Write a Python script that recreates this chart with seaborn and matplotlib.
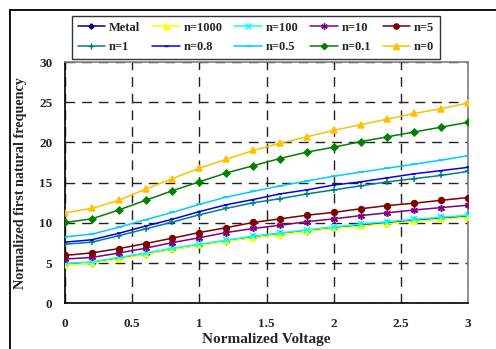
import numpy as np
import pandas as pd
import matplotlib
matplotlib.use("Agg")
import matplotlib.pyplot as plt
import seaborn as sns
from matplotlib.lines import Line2D
from matplotlib.ticker import MultipleLocator

voltage = [0, 0.2, 0.4, 0.6, 0.8, 1.0, 1.2, 1.4, 1.6, 1.8, 2.0, 2.2, 2.4, 2.6, 2.8, 3.0]

metal  = [4.85, 5.05, 5.6, 6.15, 6.75, 7.25, 7.75, 8.2, 8.6, 9.0, 9.35, 9.7, 10.0, 10.3, 10.55, 10.8]
n1000  = [4.75, 5.0, 5.5, 6.1, 6.7, 7.2, 7.7, 8.15, 8.55, 8.95, 9.3, 9.6, 9.9, 10.2, 10.45, 10.7]
n100   = [4.95, 5.15, 5.7, 6.25, 6.85, 7.35, 7.85, 8.35, 8.75, 9.15, 9.5, 9.85, 10.15, 10.45, 10.7, 10.95]
n10    = [5.5, 5.7, 6.25, 6.85, 7.55, 8.15, 8.8, 9.3, 9.7, 10.15, 10.5, 10.9, 11.25, 11.6, 11.9, 12.2]
n5     = [5.95, 6.27, 6.8, 7.43, 8.1, 8.8, 9.4, 10.05, 10.5, 10.95, 11.3, 11.75, 12.15, 12.45, 12.8, 13.15]
n1     = [7.35, 7.6, 8.4, 9.25, 10.1, 11.0, 11.8, 12.5, 13.0, 13.6, 14.1, 14.6, 15.1, 15.5, 15.9, 16.4]
n08    = [7.6, 7.9, 8.7, 9.6, 10.45, 11.4, 12.25, 12.9, 13.6, 14.1, 14.7, 15.1, 15.6, 16.1, 16.5, 16.9]
n05    = [8.26, 8.6, 9.45, 10.4, 11.3, 12.3, 13.2, 13.9, 14.6, 15.2, 15.8, 16.3, 16.8, 17.3, 17.8, 18.35]
n01    = [10.05, 10.5, 11.6, 12.8, 14.0, 15.1, 16.2, 17.1, 18.0, 18.8, 19.4, 20.1, 20.7, 21.3, 21.9, 22.5]
n0     = [11.25, 11.8, 12.8, 14.2, 15.5, 16.8, 17.9, 19.0, 19.9, 20.7, 21.5, 22.2, 22.9, 23.6, 24.2, 24.9]

labels = ["Metal", "n=1000", "n=100", "n=10", "n=5", "n=1", "n=0.8", "n=0.5", "n=0.1", "n=0"]
series = [metal, n1000, n100, n10, n5, n1, n08, n05, n01, n0]
colors = ["#000080", "#FFFF00", "#00FFFF", "#800080", "#800000",
          "#008080", "#0000FF", "#00CCFF", "#008000", "#FFC000"]
markers = ["D", "^", "x", (6, 2, 0), "o", "+", "_", "_", "D", "^"]
msizes = [3.0, 4.5, 4.5, 5, 4.2, 5, 3.5, 4, 3.5, 5]

sns.set_style("white")
plt.rcParams["font.family"] = ["Liberation Serif", "DejaVu Serif"]
plt.rcParams["font.weight"] = "bold"

fig = plt.figure(figsize=(4.96, 3.49), dpi=100)
ax = fig.add_axes([65/496, 1-303.3/349, (468-65)/496, (303.3-62)/349])

rows = []
for lab, vals in zip(labels, series):
    for xv, yv in zip(voltage, vals):
        rows.append({"x": xv, "y": yv, "s": lab})
df = pd.DataFrame(rows)

handles = {}
for lab, c, m, ms in zip(labels, colors, markers, msizes):
    sub = df[df["s"] == lab]
    sns.lineplot(data=sub, x="x", y="y", ax=ax, color=c, marker=m,
                 markersize=ms, markeredgecolor=c, markerfacecolor=c,
                 markeredgewidth=1.1, linewidth=1.1, label=lab, legend=False,
                 zorder=3)
    handles[lab] = Line2D([0], [0], color=c, marker=m, markersize=ms*0.9,
                          markeredgecolor=c, markerfacecolor=c,
                          markeredgewidth=1.0, linewidth=1.1)

ax.set_xlim(0, 3)
ax.set_ylim(0, 30)
ax.xaxis.set_minor_locator(MultipleLocator(0.1))
ax.yaxis.set_major_locator(MultipleLocator(5))
ax.yaxis.set_minor_locator(MultipleLocator(1))
ax.set_xticks([0, 0.5, 1, 1.5, 2, 2.5, 3])
ax.set_xticklabels(["0", "0.5", "1", "1.5", "2", "2.5", "3"])
ax.grid(True, which="major", color="#222222", linestyle=(0, (7, 5)), linewidth=1.0, zorder=1)

ax.tick_params(axis="x", which="major", direction="inout", length=9, width=1,
               labelsize=9.5, pad=6, color="black")
ax.tick_params(axis="x", which="minor", direction="in", length=3.5, width=1, color="black")
ax.tick_params(axis="y", which="major", direction="out", length=5, width=1,
               labelsize=9.5, pad=4, color="black")
ax.tick_params(axis="y", which="minor", direction="in", length=3.5, width=1, color="black")
for lab in ax.get_xticklabels() + ax.get_yticklabels():
    lab.set_fontweight("bold")

ax.spines["left"].set_color("black")
ax.spines["bottom"].set_color("black")
ax.spines["left"].set_linewidth(1.2)
ax.spines["bottom"].set_linewidth(1.2)
ax.spines["top"].set_color("#808080")
ax.spines["right"].set_color("#808080")
ax.spines["top"].set_linewidth(1.2)
ax.spines["right"].set_linewidth(1.2)

ax.set_xlabel("Normalized Voltage", fontsize=11, fontweight="bold", labelpad=2)
ax.set_ylabel("Normalized first natural frequency", fontsize=10.2, fontweight="bold", labelpad=9)

order = ["Metal", "n=1", "n=1000", "n=0.8", "n=100", "n=0.5", "n=10", "n=0.1", "n=5", "n=0"]
leg = fig.legend([handles[k] for k in order], order, ncol=5,
                 loc="upper left", bbox_to_anchor=(72/496, 1-16/349),
                 borderaxespad=0.0,
                 frameon=True, fancybox=False, edgecolor="black",
                 prop={"family": "Liberation Serif", "weight": "bold", "size": 9},
                 handlelength=2.2, columnspacing=0.95, handletextpad=0.3,
                 labelspacing=0.6, borderpad=0.45)
leg.get_frame().set_linewidth(1.0)

# outer frame lines
fig.add_artist(Line2D([10/496, 10/496], [0, 1-10/349], transform=fig.transFigure,
                      color="black", linewidth=1.3))
fig.add_artist(Line2D([10/496, 1], [1-10/349, 1-10/349], transform=fig.transFigure,
                      color="black", linewidth=1.3))

fig.savefig("out.png", dpi=100)
